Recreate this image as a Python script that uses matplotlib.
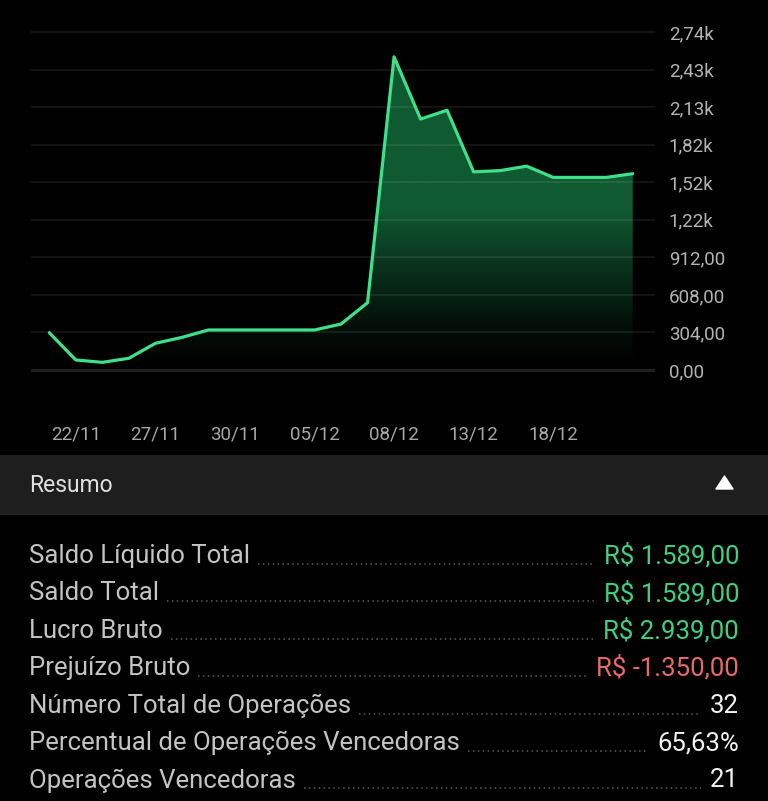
import numpy as np
import matplotlib
matplotlib.use("Agg")
import matplotlib.pyplot as plt
from matplotlib.patches import Rectangle, Polygon
from matplotlib.lines import Line2D

plt.rcParams['font.family'] = ['Roboto', 'DejaVu Sans']

# ---------------- data ----------------
dates = ['21/11', '22/11', '23/11', '24/11', '27/11', '28/11', '29/11', '30/11',
         '01/12', '04/12', '05/12', '06/12', '07/12', '08/12', '11/12', '12/12',
         '13/12', '14/12', '15/12', '18/12', '19/12', '20/12', '21/12']
balance = [302, 81, 62, 95, 216, 264, 324, 324, 324, 324, 324, 372, 545,
           2535, 2031, 2103, 1604, 1614, 1650, 1559, 1559, 1559, 1589]
xtick_idx = [1, 4, 7, 10, 13, 16, 19]
ytick_values = [0, 304, 608, 912, 1216, 1520, 1824, 2128, 2432, 2736]
ytick_labels = ['0,00', '304,00', '608,00', '912,00', '1,22k', '1,52k',
                '1,82k', '2,13k', '2,43k', '2,74k']

summary_title = 'Resumo'
summary_labels = ['Saldo Líquido Total', 'Saldo Total', 'Lucro Bruto',
                  'Prejuízo Bruto', 'Número Total de Operações',
                  'Percentual de Operações Vencedoras', 'Operações Vencedoras']
summary_values = ['R$ 1.589,00', 'R$ 1.589,00', 'R$ 2.939,00', 'R$ -1.350,00',
                  '32', '65,63%', '21']
summary_colors = ['#3ed27f', '#3ed27f', '#3ed27f', '#e86a6a',
                  '#f2f2f2', '#f2f2f2', '#f2f2f2']

# ---------------- figure ----------------
W, H = 768, 801
fig = plt.figure(figsize=(W / 100, H / 100), dpi=100, facecolor='black')

# chart axes (pixel layout)
ax_l, ax_r, ax_t, ax_b = 31, 655, 25, 377
ax = fig.add_axes([ax_l / W, 1 - ax_b / H, (ax_r - ax_l) / W, (ax_b - ax_t) / H])
ax.set_facecolor('black')
for s in ax.spines.values():
    s.set_visible(False)

x = np.arange(len(balance))
step = 26.52
ax.set_xlim((ax_l - 49.3) / step, (ax_r - 49.3) / step)
per_px = 2736 / 338.0
ax.set_ylim(-7 * per_px, 2736 + 7 * per_px)

# gradient fill under line
poly = ax.fill_between(x, 0, balance, color='none', lw=0)
y0, y1 = ax.get_ylim()
yy = np.linspace(y0, y1, 400)
frac = np.clip(yy / 1300.0, 0, 1) ** 1.3
top = np.array([16, 90, 50]) / 255.0
img = np.zeros((len(yy), 1, 4))
img[:, 0, :3] = top[None, :] * frac[:, None]
img[:, 0, 3] = 1.0
xl = ax.get_xlim()
im = ax.imshow(img, extent=[xl[0], xl[1], y0, y1], origin='lower',
               aspect='auto', zorder=2, interpolation='bilinear')
im.set_clip_path(poly.get_paths()[0], transform=ax.transData)
ax.set_xlim(xl)
ax.set_ylim(y0, y1)

# grid (drawn over the fill, faint)
for v in ytick_values[1:]:
    ax.axhline(v, color='white', alpha=0.085, lw=1.3, zorder=2.5)
ax.axhline(0, color='#1f1f1f', lw=2.2, zorder=2.6)

ax.plot(x, balance, color='#3fe08a', lw=2.3, solid_joinstyle='round',
        solid_capstyle='round', zorder=3)

# ticks
ax.yaxis.tick_right()
ax.set_yticks(ytick_values)
ax.set_yticklabels(ytick_labels)
ax.tick_params(axis='y', length=0, pad=10, labelsize=13.5, labelcolor='#b4b4b4')
ax.set_xticks(xtick_idx)
ax.set_xticklabels([dates[i] for i in xtick_idx])
ax.tick_params(axis='x', length=0, pad=35, labelsize=13.5, labelcolor='#a8a8a8')
for lab in ax.get_yticklabels():
    lab.set_horizontalalignment('left')

# ---------------- overlay for summary ----------------
ov = fig.add_axes([0, 0, 1, 1], facecolor='none')
ov.set_xlim(0, W)
ov.set_ylim(H, 0)
ov.axis('off')

ov.add_patch(Rectangle((0, 455), W, 60, color='#1e1e1e', lw=0))
ov.text(29, 485, summary_title, color='#e0e0e0', fontsize=16.5,
        va='center', ha='left')
ov.add_patch(Polygon([[716, 489], [733, 489], [724.5, 476]], closed=True,
                     color='white', lw=1.0, joinstyle='round'))

row_y0, row_dy = 556, 37.4
texts = []
for i, (lab, val, col) in enumerate(zip(summary_labels, summary_values, summary_colors)):
    yc = row_y0 + i * row_dy
    t1 = ov.text(29, yc, lab, color='#c4c4c4', fontsize=18.5, va='center', ha='left')
    t2 = ov.text(739, yc, val, color=col, fontsize=18.5, va='center', ha='right')
    texts.append((t1, t2, yc))

fig.canvas.draw()
inv = ov.transData.inverted()
for t1, t2, yc in texts:
    b1 = t1.get_window_extent()
    b2 = t2.get_window_extent()
    xa = inv.transform((b1.x1, 0))[0] + 8
    xb = inv.transform((b2.x0, 0))[0] - 9
    ov.add_line(Line2D([xa, xb], [yc + 8, yc + 8], color='#5c5c5c', lw=1.1,
                       linestyle=(0, (1, 2.2))))

fig.savefig('out.png', dpi=100, facecolor='black')
